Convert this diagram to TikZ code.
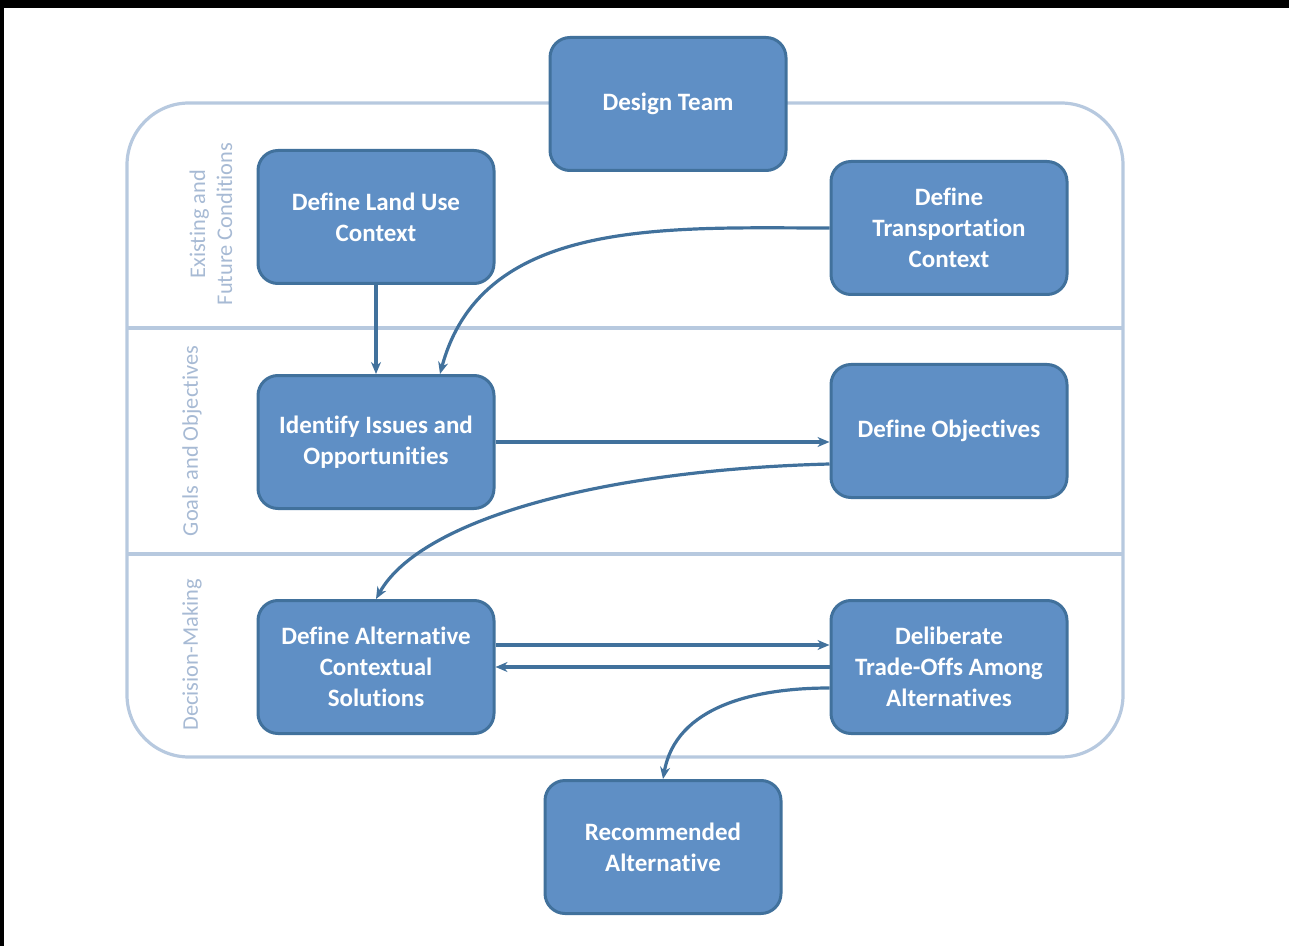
\documentclass[tikz,border=0pt]{standalone}
\usepackage{fontspec}
\setmainfont{Carlito}[Ligatures=NoCommon]
\usetikzlibrary{arrows.meta,positioning,calc}
\definecolor{boxfill}{HTML}{5F8FC5}
\definecolor{boxline}{HTML}{41719C}
\definecolor{flowcol}{HTML}{41719C}
\definecolor{framecol}{HTML}{B7C9DF}
\definecolor{sidetext}{HTML}{A7BAD4}

\begin{document}
\begin{tikzpicture}[x=0.5pt,y=-0.5pt,>={Stealth[length=6pt,width=5pt]},
  stepbox/.style={draw=boxline,line width=1.5pt,fill=boxfill,rounded corners=10pt,
    minimum width=118pt,minimum height=66.5pt,align=center,text=white,inner sep=2pt,
    font=\bfseries\fontsize{12.5}{15.5}\selectfont},
  flow/.style={->,draw=flowcol,line width=1.6pt},
  side/.style={rotate=90,text=sidetext,align=center,font=\fontsize{11.2}{13.5}\selectfont}]
  \useasboundingbox (0,0) rectangle (1289,946);
  % black edges of the scan
  \fill[black] (0,0) rectangle (1289,8);
  \fill[black] (0,0) rectangle (4,946);
  % container and bands
  \draw[framecol,line width=1.6pt,rounded corners=31pt] (127,103) rectangle (1123,757);
  \draw[framecol,line width=1.6pt] (127,328) -- (1123,328);
  \draw[framecol,line width=1.6pt] (127,554) -- (1123,554);
  \node[side] (exist) at (211,224) {Existing and\\Future Conditions};
  \node[side] (goals) at (192,441) {Goals and Objectives};
  \node[side] (decide) at (192,655) {Decision-Making};
  % steps
  \node[stepbox] (team) at (668,104) {Design Team};
  \node[stepbox] (land) at (376,217) {Define Land Use\\Context};
  \node[stepbox] (trans) at (949,228) {Define\\Transportation\\Context};
  \node[stepbox] (issues) at (376,442) {Identify Issues and\\Opportunities};
  \node[stepbox] (obj) at (949,431) {Define Objectives};
  \node[stepbox] (alt) at (376,667) {Define Alternative\\Contextual\\Solutions};
  \node[stepbox] (delib) at (949,667) {Deliberate\\Trade-Offs Among\\Alternatives};
  \node[stepbox] (rec) at (663,847) {Recommended\\Alternative};
  % connectors
  \coordinate (objout) at ($(obj.west)+(0,33)$);
  \coordinate (delibout) at ($(delib.west)+(0,21)$);
  \draw[flow] (land) -- (issues);
  \draw[flow] (trans.west) to[out=180,in=75] ($(issues.north)+(64,0)$);
  \draw[flow] (issues.east) -- (issues.east -| obj.west);
  \draw[flow] (objout) .. controls +(-230,6) and +(44,-79) .. (alt.north);
  \draw[flow] ($(alt.east)+(0,-22)$) -- ($(delib.west)+(0,-22)$);
  \draw[flow] (delib.west) -- (alt.east);
  \draw[flow] (delibout) to[out=180,in=80] (rec.north);
\end{tikzpicture}
\end{document}
